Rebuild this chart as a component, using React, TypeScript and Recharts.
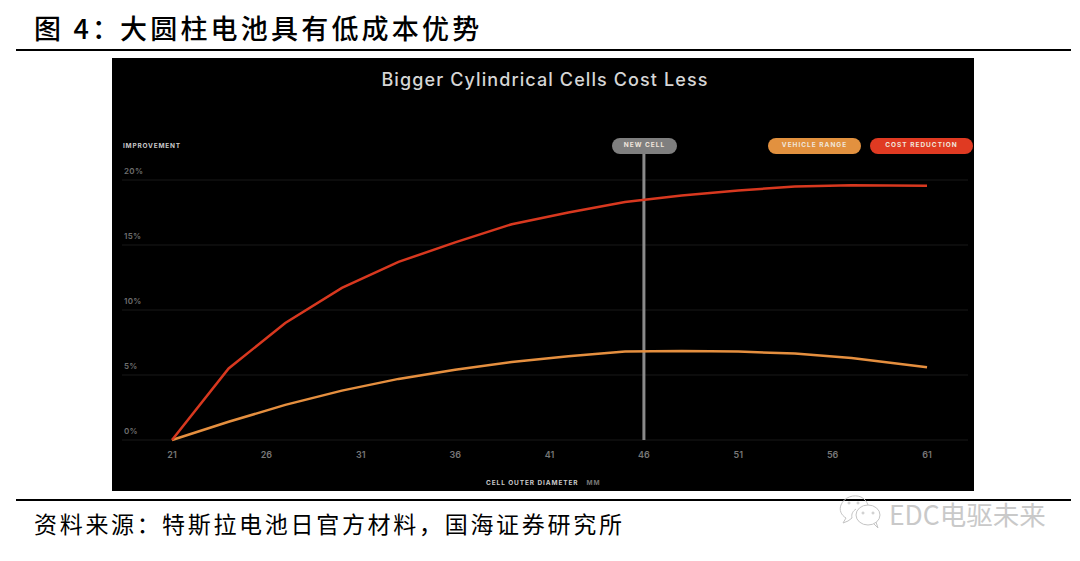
import { LineChart, Line, XAxis, YAxis, CartesianGrid, ReferenceLine } from "recharts";

const diameters = [21, 24, 27, 30, 33, 36, 39, 42, 45, 48, 51, 54, 57, 61];
const costReduction = [0, 5.5, 9.0, 11.7, 13.7, 15.2, 16.6, 17.5, 18.3, 18.8, 19.2, 19.5, 19.6, 19.55];
const vehicleRange = [0, 1.4, 2.7, 3.8, 4.7, 5.4, 6.0, 6.45, 6.8, 6.85, 6.8, 6.65, 6.3, 5.6];
const xTicks = [21, 26, 31, 36, 41, 46, 51, 56, 61];
const yTicks = [0, 5, 10, 15, 20];

const rows = diameters.map((d, i) => ({
  d,
  cost: costReduction[i],
  range: vehicleRange[i],
}));

const SANS = "Inter, 'Open Sans', sans-serif";
const CJK = "'Noto Sans CJK SC', sans-serif";

const renderYTick = ({ x, y, payload }: any) => (
  <text x={x + 10} y={y - 6} fill="#6f6f6f" fontSize={8} fontWeight={600} fontFamily={SANS} letterSpacing={0.3}>
    {payload.value}%
  </text>
);

const Pill = ({ left, width, color, text }: any) => (
  <div
    style={{
      position: "absolute",
      left,
      top: 138,
      width,
      height: 16,
      borderRadius: 8,
      background: color,
      color: "#f0e6dc",
      fontFamily: SANS,
      fontSize: 6.5,
      fontWeight: 700,
      letterSpacing: 1,
      lineHeight: "15px",
      textAlign: "center",
      whiteSpace: "nowrap",
    }}
  >
    {text}
  </div>
);

const heading = { position: "absolute", top: 8, fontFamily: CJK, fontSize: 27, fontWeight: 500, color: "#000", letterSpacing: 3.2, lineHeight: "40px", whiteSpace: "nowrap" } as const;
const source = { position: "absolute", top: 505, fontFamily: CJK, fontSize: 23, color: "#000", letterSpacing: 2.7, lineHeight: "36px", whiteSpace: "nowrap" } as const;

export default function App() {
  return (
    <div style={{ position: "absolute", left: 0, top: 0, width: 1080, height: 561, background: "#fff", overflow: "hidden" }}>
      <div style={{ ...heading, left: 34 }}>图 4{"\uFF1A"}</div>
      <div style={{ ...heading, left: 120 }}>大圆柱电池具有低成本优势</div>
      <div style={{ position: "absolute", left: 16, top: 49, width: 1055, height: 2, background: "#000" }} />

      <div style={{ position: "absolute", left: 112, top: 58, width: 862, height: 433, background: "#000" }}>
        <LineChart
          width={862}
          height={433}
          data={rows}
          margin={{ top: 122, right: 6, bottom: 21, left: 0 }}
        >
          <CartesianGrid horizontal vertical={false} stroke="#191919" strokeWidth={1} />
          <XAxis
            dataKey="d"
            type="number"
            domain={[18.35, 63.17]}
            ticks={xTicks}
            axisLine={false}
            tickLine={false}
            height={30}
            tick={{ fill: "#777", fontSize: 9, fontWeight: 600, fontFamily: SANS }}
            tickMargin={6}
            interval={0}
          />
          <YAxis
            type="number"
            domain={[0, 20]}
            ticks={yTicks}
            width={10}
            axisLine={false}
            tickLine={false}
            tick={renderYTick}
            interval={0}
          />
          <ReferenceLine
            segment={[{ x: 46, y: 0 }, { x: 46, y: 22 }]}
            stroke="#8a8a8a"
            strokeWidth={3}
            ifOverflow="visible"
          />
          <Line dataKey="range" stroke="#e58f3f" strokeWidth={2.5} dot={false} isAnimationActive={false} />
          <Line dataKey="cost" stroke="#d8381f" strokeWidth={2.5} dot={false} isAnimationActive={false} />
        </LineChart>
      </div>

      <div style={{ position: "absolute", left: 114, top: 68, width: 862, textAlign: "center", fontFamily: SANS, fontSize: 18, fontWeight: 500, letterSpacing: 1.1, color: "#d6d6d6", lineHeight: "24px" }}>
        Bigger Cylindrical Cells Cost Less
      </div>
      <div style={{ position: "absolute", left: 123, top: 141, fontFamily: SANS, fontSize: 6.5, fontWeight: 700, letterSpacing: 0.8, color: "#c8c8c8", lineHeight: "10px" }}>
        IMPROVEMENT
      </div>
      <Pill left={612} width={65} color="#7f7f7f" text="NEW CELL" />
      <Pill left={768} width={93} color="#e2913f" text="VEHICLE RANGE" />
      <Pill left={870} width={103} color="#e03a22" text="COST REDUCTION" />
      <div style={{ position: "absolute", left: 486, top: 478, fontFamily: SANS, fontSize: 6.5, fontWeight: 700, letterSpacing: 0.9, color: "#c8c8c8", lineHeight: "10px", whiteSpace: "nowrap" }}>
        CELL OUTER DIAMETER<span style={{ color: "#777", marginLeft: 8 }}>MM</span>
      </div>

      <div style={{ position: "absolute", left: 16, top: 499, width: 1055, height: 2, background: "#000" }} />
      <div style={{ ...source, left: 34 }}>资料来源{"\uFF1A"}</div>
      <div style={{ ...source, left: 162 }}>特斯拉电池日官方材料{"\uFF0C"}国海证券研究所</div>

      <svg style={{ position: "absolute", left: 838, top: 492 }} width={46} height={40} fill="none" stroke="#c4c4c4" strokeWidth={1}>
        <path d="M18 17 C15 19 13 22 14 26 L10 29 L5 31 L8 26 C3 23 1 18 3 13 C6 5 16 2 23 5 C27 7 29 10 30 13" />
        <ellipse cx={30} cy={23} rx={12} ry={10} />
        <path d="M36 32 L40 36 L38 30" />
        <circle cx={25} cy={21} r={1} />
        <circle cx={35} cy={21} r={1} />
        <circle cx={11} cy={11} r={1} />
        <circle cx={20} cy={11} r={1} />
      </svg>
      <div style={{ position: "absolute", left: 889, top: 497, fontFamily: CJK, fontSize: 26.5, color: "#c9c9c9", lineHeight: "34px", whiteSpace: "nowrap" }}>
        EDC电驱未来
      </div>
    </div>
  );
}
